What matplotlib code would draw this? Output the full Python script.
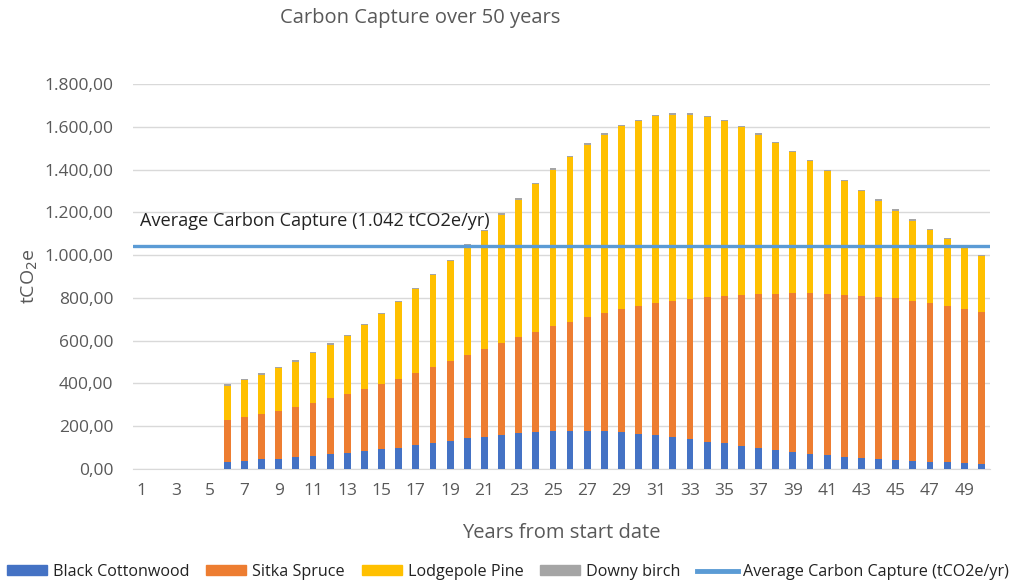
import matplotlib
matplotlib.use("Agg")
import matplotlib.pyplot as plt
from matplotlib.ticker import FuncFormatter, FixedLocator
from matplotlib.patches import Patch
from matplotlib.lines import Line2D

years = list(range(1, 51))
black_cottonwood = [0, 0, 0, 0, 0,
                    34, 39, 45, 48, 55, 61, 69, 75, 84, 92,
                    100, 112, 120, 131, 143, 151, 159, 167, 173, 178,
                    179, 179, 178, 172, 165, 158, 151, 140, 128, 120,
                    108, 98, 90, 81, 72, 64, 58, 53, 47, 42,
                    37, 34, 31, 27, 25]
sitka_spruce = [0, 0, 0, 0, 0,
                195, 203, 212, 225, 236, 249, 261, 277, 290, 305,
                321, 337, 358, 374, 390, 409, 429, 449, 469, 490,
                510, 533, 553, 575, 597, 619, 634, 655, 675, 689,
                705, 720, 728, 740, 749, 754, 755, 757, 759, 756,
                750, 741, 731, 720, 708]
lodgepole_pine = [0, 0, 0, 0, 0,
                  161, 173, 184, 197, 211, 232, 252, 269, 298, 328,
                  360, 393, 428, 467, 513, 551, 601, 643, 689, 732,
                  769, 805, 832, 855, 865, 872, 872, 862, 842, 817,
                  784, 745, 706, 661, 618, 574, 532, 488, 449, 410,
                  374, 341, 313, 286, 261]
downy_birch = [0, 0, 0, 0, 0] + [6] * 45
average_capture = 1042
tick_labels = [str(y) for y in years if y % 2 == 1]

C_BLUE = "#4472C4"
C_ORANGE = "#ED7D31"
C_YELLOW = "#FFC000"
C_GREY = "#A5A5A5"
C_LINE = "#5B9BD5"
TXT = "#595959"

plt.rcParams['font.family'] = ['Open Sans', 'DejaVu Sans']

fig = plt.figure(figsize=(10.21, 5.86), dpi=100)
ax = fig.add_axes([133/1021, 117/586, (990-133)/1021, (469-84)/586])

w = 0.4
b1 = [a for a in black_cottonwood]
b2 = [a + b for a, b in zip(black_cottonwood, sitka_spruce)]
b3 = [a + b for a, b in zip(b2, lodgepole_pine)]
ax.bar(years, black_cottonwood, width=w, color=C_BLUE, zorder=3)
ax.bar(years, sitka_spruce, width=w, bottom=b1, color=C_ORANGE, zorder=3)
ax.bar(years, lodgepole_pine, width=w, bottom=b2, color=C_YELLOW, zorder=3)
ax.bar(years, downy_birch, width=w, bottom=b3, color=C_GREY, zorder=3)
ax.plot([0.5, 50.5], [average_capture, average_capture], color=C_LINE, lw=2.4,
        solid_capstyle='round', zorder=4)
ax.text(0.9, average_capture + 118, "Average Carbon Capture (1.042 tCO2e/yr)",
        fontsize=13.1, color="#222222", va='center', ha='left', zorder=5)

ax.set_xlim(0.5, 50.5)
ax.set_ylim(0, 1800)
ax.set_yticks(range(0, 1801, 200))
ax.yaxis.set_major_formatter(FuncFormatter(
    lambda v, p: f"{v:,.2f}".replace(",", "X").replace(".", ",").replace("X", ".")))
ax.xaxis.set_major_locator(FixedLocator([y for y in years if y % 2 == 1]))
ax.set_xticklabels(tick_labels)
ax.tick_params(axis='both', length=0, colors=TXT, labelsize=12.5)
ax.tick_params(axis='x', pad=10)
ax.tick_params(axis='y', pad=14)
ax.grid(axis='y', color="#D9D9D9", lw=1, zorder=0)
for s in ['top', 'right', 'left']:
    ax.spines[s].set_visible(False)
ax.spines['bottom'].set_color("#D9D9D9")

ax.set_xlabel("Years from start date", fontsize=14.5, color=TXT, labelpad=17)
ax.set_ylabel("tCO$_2$e", fontsize=14, color=TXT, labelpad=3)

fig.text(420/1021, 1 - 18/586, "Carbon Capture over 50 years", fontsize=14.5,
         color=TXT, ha='center', va='center')

handles = [Patch(color=C_BLUE), Patch(color=C_ORANGE), Patch(color=C_YELLOW),
           Patch(color=C_GREY), Line2D([], [], color=C_LINE, lw=3.5)]
labels = ["Black Cottonwood", "Sitka Spruce", "Lodgepole Pine", "Downy birch",
          "Average Carbon Capture (tCO2e/yr)"]
leg = fig.legend(handles, labels, loc='center', bbox_to_anchor=(508/1021, 14/586),
                 ncol=5, frameon=False, fontsize=11.6, handlelength=2.5,
                 handleheight=0.6, columnspacing=1.05, handletextpad=0.35,
                 borderpad=0, borderaxespad=0)
for t in leg.get_texts():
    t.set_color("#222222")

fig.savefig("out.png", dpi=100)
